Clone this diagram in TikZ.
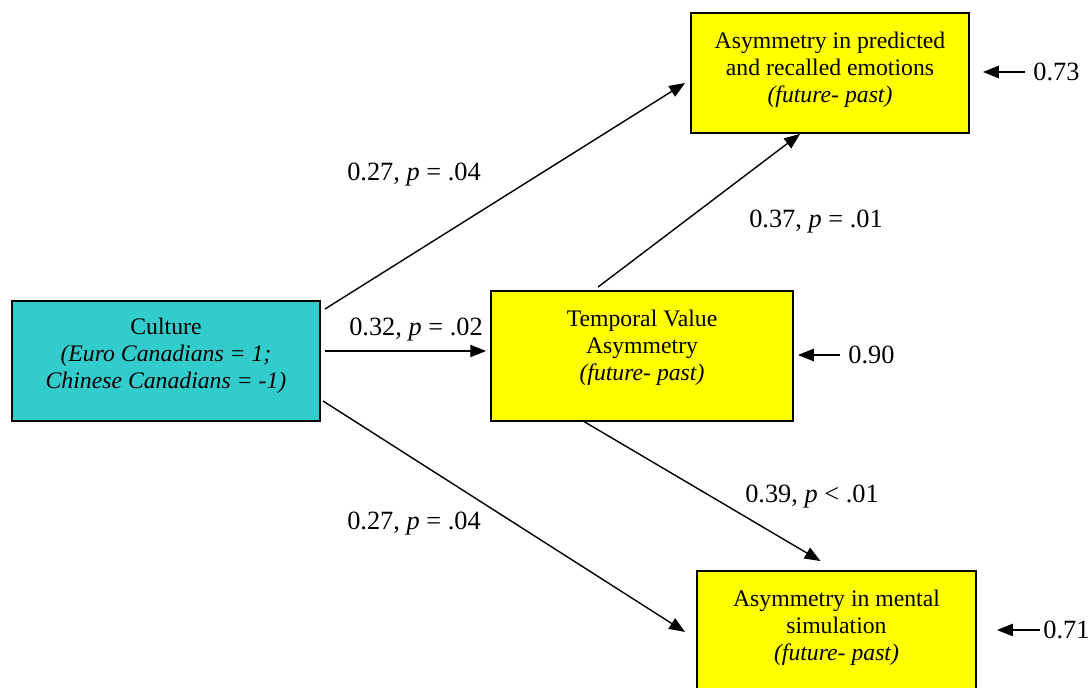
\documentclass[tikz,border=0pt]{standalone}
\usepackage{fontspec}
\setmainfont{Liberation Serif}
\usepackage{xcolor}
\definecolor{ColCult}{RGB}{51,204,204}
\definecolor{ColVar}{RGB}{255,255,0}
\usepackage{tikz}
\usetikzlibrary{calc}
\usetikzlibrary{arrows.meta}
\tikzstyle{Box}=[rectangle,draw=black,line width=1.1pt,inner sep=0pt]
\tikzstyle{BoxText}=[align=center,font=\fontsize{13.5}{15.4}\selectfont]
\tikzstyle{Coef}=[font=\fontsize{15}{17}\selectfont,inner sep=0pt]
\tikzstyle{Path}=[draw=black,line width=0.8pt,
-{Triangle[length=9pt,width=7pt]}]

\begin{document}
\begin{tikzpicture}[x=0.02cm,y=-0.02cm]
        \useasboundingbox(0,0)rectangle(1088,688);
        % boxes
        \node[Box,fill=ColCult,minimum width=6.16cm,minimum height=2.4cm]
                (cult)at(166,361){};
        \node[Box,fill=ColVar,minimum width=6.04cm,minimum height=2.6cm]
                (mid)at(642,356){};
        \node[Box,fill=ColVar,minimum width=5.56cm,minimum height=2.4cm]
                (top)at(830,73){};
        \node[Box,fill=ColVar,minimum width=5.58cm,minimum height=2.4cm]
                (bot)at(836.5,631){};
        \node[BoxText](culttext)at(166,356)
                {Culture\\\textit{(Euro Canadians = 1;}\\
                \textit{Chinese Canadians = -1)}};
        \node[BoxText](midtext)at(642,348)
                {Temporal Value\\Asymmetry\\\textit{(future- past)}};
        \node[BoxText](toptext)at(830,70)
                {Asymmetry in predicted\\and recalled emotions\\
                \textit{(future- past)}};
        \node[BoxText](bottext)at(836.5,628)
                {Asymmetry in mental\\simulation\\\textit{(future- past)}};
        % paths
        \draw[Path]($(cult.north east)+(4,9)$)--($(top.west)+(-5,10)$);
        \draw[Path]($(cult.east)+(4,-10)$)--($(mid.west)+(-4,-5)$);
        \draw[Path]($(cult.south east)+(2,-21)$)--($(bot.west)+(-11,1)$);
        \draw[Path]($(mid.north)+(-44,-3)$)--($(top.south)+(-30,0)$);
        \draw[Path]($(mid.south)+(-59,-1)$)--($(bot.north)+(-16,-9)$);
        \node[Coef](c1)at(414,175){0.27, \textit{p} = .04};
        \node[Coef](c2)at(416,330){0.32, \textit{p} = .02};
        \node[Coef](c3)at(816,222){0.37, \textit{p} = .01};
        \node[Coef](c4)at(812,497){0.39, \textit{p} {\textless} .01};
        \node[Coef](c5)at(414,524){0.27, \textit{p} = .04};
        % residuals
        \node[Coef,anchor=west](e1)at(1033,72){0.73};
        \node[Coef,anchor=west](e2)at(848,355){0.90};
        \node[Coef,anchor=west](e3)at(1043,630){0.71};
        \draw[Path]($(e1.west)+(-8,0)$)--($(top.east)+(13,-1)$);
        \draw[Path]($(e2.west)+(-8,0)$)--($(mid.east)+(4,-1)$);
        \draw[Path]($(e3.west)+(-3,0)$)--($(bot.east)+(20,-1)$);
    \end{tikzpicture}
\end{document}
